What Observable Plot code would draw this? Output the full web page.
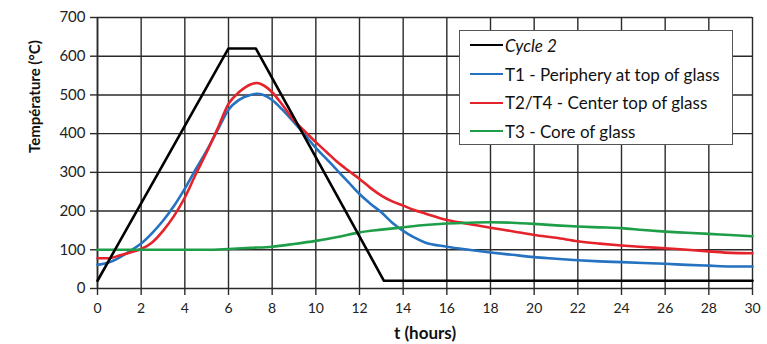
<!DOCTYPE html>
<html>
<head>
<meta charset="utf-8">
<script src="https://cdn.jsdelivr.net/npm/d3@7"></script>
<script src="https://cdn.jsdelivr.net/npm/@observablehq/plot@0.6"></script>
<style>
  html, body { margin: 0; padding: 0; background: #fff; }
  #wrap { position: relative; width: 767px; height: 344px; font-family: Lato, "Open Sans", sans-serif; }
  #legend { position: absolute; left: 459px; top: 30px; width: 274px; height: 115px; box-sizing: border-box;
            border: 1px solid #555; background: #fff; padding: 0 0 0 10px; }
  .item { display: flex; align-items: center; height: 28.7px; font-size: 17px; color: #111; white-space: nowrap; }
  .sw { width: 33px; height: 0; border-top: 2.6px solid; margin-right: 2px; flex: none; }
</style>
</head>
<body>
<div id="wrap"><div id="chart"></div><div id="legend"></div></div>
<script>
const seriesNames = ["Cycle 2", "T1 - Periphery at top of glass", "T2/T4 - Center top of glass", "T3 - Core of glass"];
const seriesColors = ["#000000", "#2472c0", "#e4232b", "#1f9e4a"];

const cycleT = [0, 6, 7.25, 13.12, 30];
const cycleV = [20, 620, 620, 20, 20];

const t1T = [0, 0.5, 1, 1.5, 2, 2.5, 3, 3.5, 4, 4.5, 5, 5.5, 6, 6.5, 7, 7.3, 7.6, 8, 8.5, 9, 9.5, 10, 10.5, 11, 11.5, 12, 12.5, 13, 13.5, 14, 14.5, 15, 16, 17, 18, 19, 20, 21, 22, 23, 24, 25, 26, 27, 28, 29, 30];
const t1V = [61, 67, 80, 97, 116, 143, 175, 213, 258, 308, 356, 409, 462, 488, 500, 503, 500, 487, 460, 429, 397, 363, 334, 304, 274, 244, 219, 197, 170, 149, 132, 119, 108, 100, 93, 87, 81, 77, 73, 70, 68, 66, 64, 61, 59, 57, 57];

const t2T = [0, 0.5, 1, 1.5, 2, 2.5, 3, 3.5, 4, 4.5, 5, 5.5, 6, 6.5, 7, 7.3, 7.6, 8, 8.5, 9, 9.5, 10, 10.5, 11, 11.5, 12, 12.5, 13, 13.5, 14, 14.5, 15, 16, 17, 18, 19, 20, 21, 22, 23, 24, 25, 26, 27, 28, 29, 30];
const t2V = [78, 78, 85, 93, 102, 119, 149, 187, 235, 295, 352, 413, 477, 508, 527, 531, 525, 507, 472, 434, 406, 378, 352, 326, 304, 283, 260, 240, 225, 214, 203, 194, 177, 167, 157, 148, 138, 131, 122, 116, 111, 107, 104, 100, 96, 92, 91];

const t3T = [0, 2, 4, 5, 6, 7, 8, 9, 10, 11, 12, 13, 14, 15, 16, 17, 18, 19, 20, 21, 22, 23, 24, 25, 26, 27, 28, 29, 30];
const t3V = [100, 100, 100, 100, 102, 105, 108, 115, 123, 133, 145, 152, 158, 164, 168, 170, 171, 170, 167, 163, 160, 158, 156, 151, 147, 144, 141, 138, 135];

const xTicks = d3.range(0, 31, 2);
const yTicks = d3.range(0, 701, 100);

const toRows = (ts, vs, name) => ts.map((t, j) => ({series: name, t, v: vs[j]}));
const cycleData = toRows(cycleT, cycleV, seriesNames[0]);
const curveData = [
  ...toRows(t1T, t1V, seriesNames[1]),
  ...toRows(t2T, t2V, seriesNames[2]),
  ...toRows(t3T, t3V, seriesNames[3])
];

const chart = Plot.plot({
  width: 767,
  height: 344,
  marginLeft: 97,
  marginRight: 15,
  marginTop: 17,
  marginBottom: 56,
  style: {fontFamily: "Lato, 'Open Sans', sans-serif", fontSize: "14px", color: "#222", background: "#fff"},
  x: {domain: [0, 30], ticks: xTicks, label: null},
  y: {domain: [0, 700], ticks: yTicks, label: null},
  color: {domain: seriesNames, range: seriesColors},
  marks: [
    Plot.gridX(xTicks, {stroke: "#2a2a2a", strokeOpacity: 1, strokeWidth: 1.4}),
    Plot.gridY(yTicks, {stroke: "#2a2a2a", strokeOpacity: 1, strokeWidth: 1.4}),
    Plot.axisX({ticks: xTicks, tickSize: 7, tickPadding: 8, fontSize: 14, stroke: "#2a2a2a", strokeWidth: 1.4, label: null}),
    Plot.axisY({ticks: yTicks, tickSize: 7, tickPadding: 5, fontSize: 15, stroke: "#2a2a2a", strokeWidth: 1.4, label: null}),
    Plot.ruleX([0], {stroke: "#2a2a2a", strokeWidth: 1.6}),
    Plot.line(curveData, {x: "t", y: "v", z: "series", stroke: "series", strokeWidth: 2.6, curve: "monotone-x"}),
    Plot.line(cycleData, {x: "t", y: "v", stroke: "series", strokeWidth: 2.6}),
    Plot.text(["t (hours)"], {frameAnchor: "bottom", dy: 50, fontWeight: "bold", fontSize: 17, fill: "#111"}),
    Plot.text(["Température (°C)"], {frameAnchor: "left", dx: -62, rotate: -90, fontWeight: "bold", fontSize: 15, fill: "#111"})
  ]
});
document.getElementById("chart").appendChild(chart);

const legend = document.getElementById("legend");
seriesNames.forEach((n, i) => {
  const it = document.createElement("div");
  it.className = "item";
  const sw = document.createElement("span");
  sw.className = "sw";
  sw.style.borderTopColor = seriesColors[i];
  const tx = document.createElement("span");
  tx.textContent = n;
  if (i === 0) tx.style.fontStyle = "italic";
  it.appendChild(sw); it.appendChild(tx);
  legend.appendChild(it);
});
</script>
</body>
</html>
